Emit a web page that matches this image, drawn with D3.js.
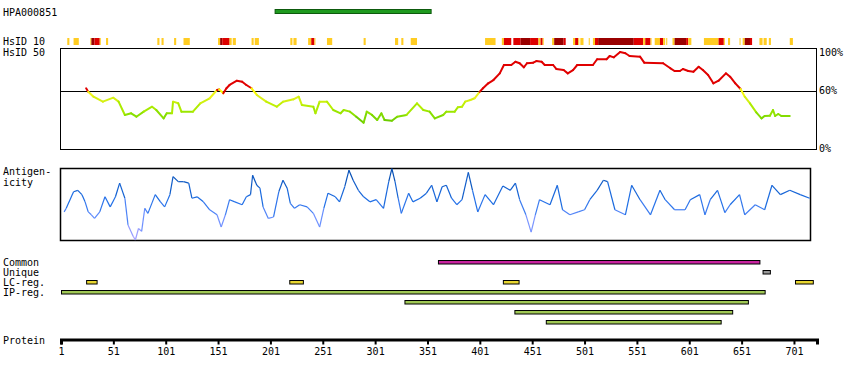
<!DOCTYPE html>
<html><head><meta charset="utf-8">
<script src="https://cdn.jsdelivr.net/npm/d3@7"></script>
<style>
body{margin:0;background:#fff;}
svg text{font-family:"DejaVu Sans Mono",monospace;font-size:10px;fill:#000;}
</style></head><body>
<svg id="c" width="850" height="380"></svg>
<script>
// ---------- data ----------
const proteinLength = 723;
const xTicks = [1,51,101,151,201,251,301,351,401,451,501,551,601,651,701];
const antigenName = "HPA000851";
const antigenRange = [205, 354];

// HsID 10 strip: start, end, level (1 = low, 2 = mid, 3 = high)
const hsStart = [7,13,29,30,33,38,44,93,97,109,118,151,153,155,162,165,183,186,220,223,237,240,243,255,290,320,326,335,406,422,424,433,440,449,457,459,461,470,472,481,490,492,495,497,505,509,511,514,548,557,559,564,568,573,576,579,585,587,598,600,615,629,634,638,649,652,654,659,668,672,677,697];
const hsEnd   = [9,18,30,33,38,39,46,95,99,111,124,153,155,162,164,168,185,190,222,226,240,243,244,260,292,323,328,341,416,424,431,440,449,457,459,461,462,472,481,483,492,495,496,500,506,511,514,548,557,559,564,565,573,576,578,580,587,598,600,603,629,634,635,640,650,654,659,661,671,675,679,700];
const hsLevel = [1,1,1,3,2,1,1,1,1,1,1,1,3,2,1,1,1,1,1,1,1,2,1,1,1,1,1,1,1,1,2,2,3,2,1,2,1,1,3,2,1,2,1,1,1,1,2,3,2,1,2,1,1,2,1,1,1,3,2,1,1,2,1,1,1,1,3,2,1,1,1,1];

// HsID 50 identity (%) by residue
const idRes = [25,27,32,41,51,56,62,68,73,80,88,92,99,102,107,108,113,116,127,134,143,150,152,156,159,162,169,174,178,183,188,197,207,213,223,228,231,242,244,248,255,261,268,271,277,283,290,293,298,303,307,310,317,322,331,341,347,353,358,366,369,377,380,384,387,392,396,401,404,409,414,420,424,431,435,439,443,446,452,455,460,463,471,474,481,485,490,494,509,513,522,525,529,535,540,544,554,558,576,583,587,592,595,600,605,610,614,619,624,629,636,640,645,650,654,659,665,670,673,678,681,683,686,689,697];
const idVal = [62.6,59.1,53.9,48.8,52.9,48.8,35.1,36.8,33.3,38.5,43.6,40.2,31.6,36.8,36.8,48.8,47.1,38.5,38.5,47.1,52.3,60.8,61.5,57.4,62.6,66,70.4,69.4,66,62.6,55.7,48.8,43.6,48.8,51.2,53.9,45.4,43.6,36.8,48.8,48.8,40.2,36.8,40.2,38.5,33.3,27.1,38.5,35.1,29.9,36.8,29.9,29.2,33.3,35.1,47.1,40.2,38.5,31.6,35.1,38.5,38.5,43,43.6,48.8,50.5,52.3,59.1,62.6,67.7,71.1,78,86.6,86.6,90,88.4,84.2,88.4,89,90.7,90,86.6,86.6,82.5,81.4,78,81.4,86.6,86.6,92.5,92.5,95.9,94.5,100,98.7,95.9,95.2,89,88.4,83.2,80.4,80.4,82.5,80.4,79.7,84.8,81.4,76.3,67.7,70.4,78,74.5,67.7,61.9,53.9,47.1,37.8,31.6,34,34.3,40.2,34,36.1,34,34];
const idTicks = ["100%","60%","0%"];
const idTickVals = [100,60,0];

// Antigenicity by residue
const agRes = [4,6,13,17,21,24,27,30,33,38,43,48,53,57,62,65,70,72,75,78,81,84,91,96,100,105,108,113,118,123,126,131,137,143,150,154,158,162,167,174,178,182,184,188,191,194,199,204,209,213,217,220,224,229,236,242,248,252,256,263,267,272,276,280,285,290,296,302,309,314,317,320,323,326,333,337,344,350,355,360,365,369,374,379,384,390,394,399,406,414,423,430,435,439,445,450,454,458,468,475,480,487,495,501,506,513,519,523,530,540,546,554,564,573,578,587,597,602,611,616,621,628,635,640,649,654,664,673,680,688,697,707,716];
const agVal = [0.39,0.44,0.67,0.69,0.63,0.53,0.39,0.35,0.30,0.39,0.60,0.46,0.60,0.79,0.58,0.21,0.05,0.00,0.16,0.12,0.44,0.37,0.63,0.53,0.46,0.63,0.88,0.81,0.81,0.79,0.58,0.60,0.53,0.42,0.35,0.18,0.35,0.56,0.53,0.49,0.60,0.63,0.90,0.76,0.72,0.46,0.30,0.32,0.67,0.83,0.72,0.51,0.44,0.49,0.46,0.37,0.18,0.44,0.65,0.60,0.53,0.74,0.97,0.83,0.69,0.60,0.53,0.56,0.44,0.81,0.99,0.81,0.58,0.37,0.65,0.53,0.58,0.65,0.76,0.53,0.74,0.76,0.58,0.49,0.56,0.94,0.69,0.39,0.63,0.49,0.75,0.69,0.79,0.56,0.35,0.11,0.35,0.56,0.49,0.76,0.42,0.35,0.39,0.42,0.56,0.69,0.83,0.81,0.42,0.35,0.76,0.56,0.35,0.69,0.56,0.42,0.42,0.56,0.63,0.35,0.56,0.69,0.38,0.49,0.63,0.35,0.49,0.42,0.76,0.63,0.69,0.63,0.58];

// Feature tracks
const trackNames = ["Common","Unique","LC-reg.","IP-reg."];
const commonStart = [361], commonEnd = [668];
const uniqueStart = [671], uniqueEnd = [678];
const lcStart = [25,219,423,702], lcEnd = [35,232,438,719];
const ipStart = [1,329,434,464], ipEnd = [673,657,642,631];

// ---------- drawing ----------
const svg = d3.select("#c");
const x = d3.scaleLinear().domain([1, proteinLength]).range([61, 817]);

// antigen label + bar
svg.append("text").attr("x",3).attr("y",16).text(antigenName);
svg.append("rect").attr("x",x(antigenRange[0])+0.5).attr("y",9.5)
  .attr("width",x(antigenRange[1])-x(antigenRange[0])).attr("height",4)
  .attr("fill","#1f9a1f").attr("stroke","#0d5a0d");

// HsID labels
svg.append("text").attr("x",3).attr("y",45).text("HsID 10");
svg.append("text").attr("x",3).attr("y",56).text("HsID 50");

const hsColor = d3.scaleOrdinal().domain([1,2,3]).range(["#ffcc22","#dd0000","#990000"]);
svg.append("g").selectAll("rect").data(hsStart.map((s,i)=>({s,e:hsEnd[i],l:hsLevel[i]})))
  .join("rect").attr("x",d=>x(d.s)).attr("y",38).attr("width",d=>Math.max(1,x(d.e)-x(d.s)))
  .attr("height",7).attr("fill",d=>hsColor(d.l));

// identity panel
const yId = d3.scaleLinear().domain([0,100]).range([149,52]);
svg.append("rect").attr("x",60.5).attr("y",48.5).attr("width",756).attr("height",101)
  .attr("fill","none").attr("stroke","#000");
svg.append("line").attr("x1",60).attr("x2",817).attr("y1",Math.round(yId(60))+0.5).attr("y2",Math.round(yId(60))+0.5)
  .attr("stroke","#000");
const idColor = v => v>=60 ? "#e00000" : d3.scaleLinear().domain([25,35,45,55,60]).range(["#55bb00","#88e000","#bbf000","#e8f020","#ffff00"]).clamp(true)(v);
const idPts = idRes.map((r,i)=>({r,v:idVal[i]}));
svg.append("g").selectAll("line").data(idPts.slice(1).map((d,i)=>[idPts[i],d]))
  .join("line").attr("x1",d=>x(d[0].r)).attr("y1",d=>yId(d[0].v)).attr("x2",d=>x(d[1].r)).attr("y2",d=>yId(d[1].v))
  .attr("stroke",d=>idColor((d[0].v+d[1].v)/2)).attr("stroke-width",2).attr("stroke-linecap","round");
svg.append("g").selectAll("text").data(idTickVals).join("text")
  .attr("x",819).attr("y",(d,i)=>[56,94,152][i]).text((d,i)=>idTicks[i]);

// antigenicity panel
svg.append("text").attr("x",3).attr("y",175).text("Antigen-");
svg.append("text").attr("x",3).attr("y",186).text("icity");
const yAg = d3.scaleLinear().domain([0,1]).range([240,168]);
svg.append("rect").attr("x",60.5).attr("y",168.5).attr("width",750).attr("height",72)
  .attr("fill","none").attr("stroke","#000").attr("stroke-width",1.5);
const agColor = d3.scaleLinear().domain([0,0.3,0.55,1]).range(["#b0a4ff","#6a90ff","#1e6ee6","#0048a8"]).clamp(true);
const agPts = agRes.map((r,i)=>({r,v:agVal[i]}));
svg.append("g").selectAll("line").data(agPts.slice(1).map((d,i)=>[agPts[i],d]))
  .join("line").attr("x1",d=>x(d[0].r)).attr("y1",d=>yAg(d[0].v)).attr("x2",d=>x(d[1].r)).attr("y2",d=>yAg(d[1].v))
  .attr("stroke",d=>agColor((d[0].v+d[1].v)/2)).attr("stroke-width",1.2);

// tracks
const trackY = [266,276,286,296];
trackNames.forEach((n,i)=>svg.append("text").attr("x",3).attr("y",trackY[i]).text(n));
function bars(starts, ends, rows, fill){
  svg.append("g").selectAll("rect").data(starts.map((s,i)=>({s,e:ends[i],row:rows[i]})))
    .join("rect").attr("x",d=>x(d.s)+0.5).attr("y",d=>d.row+0.5)
    .attr("width",d=>x(d.e)-x(d.s)).attr("height",3.5)
    .attr("fill",fill).attr("stroke","#000").attr("stroke-width",1);
}
bars(commonStart, commonEnd, [260], "#c8229f");
bars(uniqueStart, uniqueEnd, [270], "#999999");
bars(lcStart, lcEnd, [280,280,280,280], "#e8d630");
bars(ipStart, ipEnd, [290,300,310,320], "#a0c855");

// protein axis
svg.append("text").attr("x",3).attr("y",344).text("Protein");
const ax = svg.append("g").attr("transform","translate(0,339.5)")
  .call(d3.axisBottom(x).tickValues(xTicks).tickSize(5).tickSizeOuter(5).tickPadding(3).tickFormat(d3.format("d")));
ax.select(".domain").attr("stroke-width",3);
ax.selectAll(".tick line").attr("stroke-width",2);
ax.selectAll("text").attr("font-family","DejaVu Sans Mono").attr("font-size",10);
</script></body></html>
